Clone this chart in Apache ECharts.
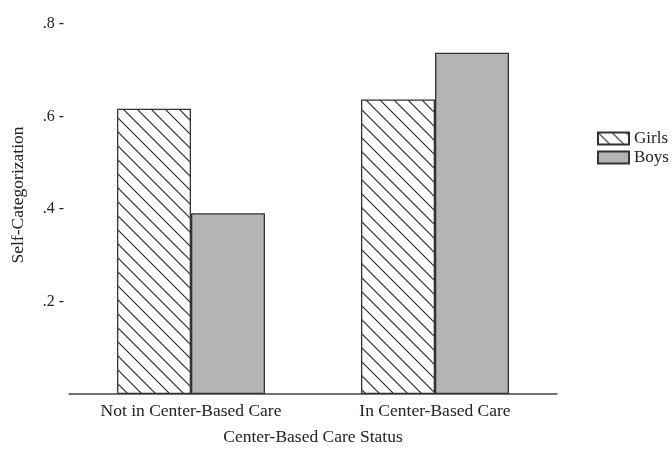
<!DOCTYPE html>
<html><head><meta charset="utf-8">
<script src="https://cdn.jsdelivr.net/npm/echarts@6/dist/echarts.min.js"></script>
<style>html,body{margin:0;padding:0;background:#fff}#c{width:672px;height:451px}</style>
</head><body><div id="c"></div>
<script>
const categories = ['Not in Center-Based Care', 'In Center-Based Care'];
const girls = [0.617, 0.637];
const boys = [0.391, 0.738];
const yTicks = [0.2, 0.4, 0.6, 0.8];
const seriesNames = ['Girls', 'Boys'];

function hatch() {
  const s = 14;
  const c = document.createElement('canvas');
  c.width = s; c.height = s;
  const g = c.getContext('2d');
  g.fillStyle = '#fff'; g.fillRect(0, 0, s, s);
  g.strokeStyle = '#222'; g.lineWidth = 1.1;
  g.beginPath();
  g.moveTo(-2, -2); g.lineTo(s + 2, s + 2);
  g.moveTo(-2 - s, -2); g.lineTo(2, s + 2);
  g.moveTo(s - 2, -2); g.lineTo(2 * s + 2, s + 2);
  g.stroke();
  return c;
}
const font = 'Liberation Serif';
const chart = echarts.init(document.getElementById('c'));
chart.setOption({
  animation: false,
  textStyle: { fontFamily: font },
  grid: { left: 69, right: 115, top: 24, bottom: 55 },
  legend: {
    orient: 'vertical', left: 592, top: 125, itemWidth: 31, itemHeight: 12, itemGap: 2,
    icon: 'rect',
    textStyle: { fontFamily: font, fontSize: 17, color: '#222' },
    data: seriesNames
  },
  xAxis: {
    type: 'category', data: categories,
    name: 'Center-Based Care Status', nameLocation: 'middle', nameGap: 34,
    nameTextStyle: { fontFamily: font, fontSize: 17.5, color: '#222' },
    axisLine: { lineStyle: { color: '#444', width: 1.5 } },
    axisTick: { alignWithLabel: true, length: 6, lineStyle: { color: '#444' } },
    axisLabel: { fontFamily: font, fontSize: 17.5, color: '#222', margin: 8 }
  },
  yAxis: {
    type: 'value', min: 0, max: 0.8, interval: 0.2,
    name: 'Self-Categorization', nameLocation: 'middle', nameGap: 42,
    nameTextStyle: { fontFamily: font, fontSize: 17.5, color: '#222', padding: [0, 0, 0, 28] },
    axisLine: { show: false }, axisTick: { show: false }, splitLine: { show: false },
    axisLabel: {
      fontFamily: font, fontSize: 16, color: '#222', margin: 5,
      formatter: v => yTicks.some(t => Math.abs(t - v) < 1e-6) ? ('.' + Math.round(v * 10) + ' -') : ''
    }
  },
  series: [
    { name: seriesNames[0], type: 'bar', data: girls, barWidth: 74, barGap: '0%',
      itemStyle: { color: { image: hatch(), repeat: 'repeat' }, borderColor: '#333', borderWidth: 1.3 } },
    { name: seriesNames[1], type: 'bar', data: boys, barWidth: 74,
      itemStyle: { color: '#b4b4b4', borderColor: '#333', borderWidth: 1.3 } }
  ]
});
</script></body></html>
